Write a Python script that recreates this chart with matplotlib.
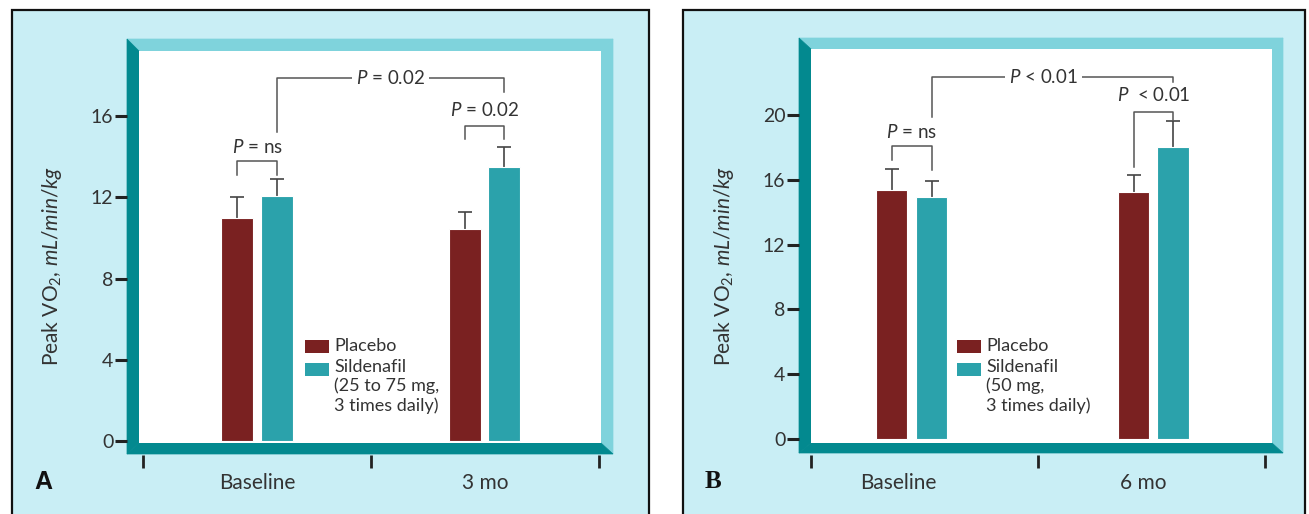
import matplotlib
matplotlib.use("Agg")
import matplotlib.pyplot as plt
from matplotlib.patches import Polygon, Rectangle

plt.rcParams['font.family'] = ['Lato', 'DejaVu Sans']
plt.rcParams['mathtext.fontset'] = 'custom'
plt.rcParams['mathtext.rm'] = 'Lato'
plt.rcParams['mathtext.it'] = 'Lato:italic'

# data
groups_a = ["Baseline", "3 mo"]
placebo_a = [11.0, 10.45]
placebo_err_a = [1.0, 0.85]
sild_a = [12.05, 13.5]
sild_err_a = [0.85, 1.0]
sild_label_a = "Sildenafil\n(25 to 75 mg,\n3 times daily)"
# bracket: (bar left, bar right, y left leg end, y right leg end, bracket height, label)
brackets_a = [(0, 1, 13.1, 13.1, 13.8, "ns"), (2, 3, 14.88, 14.88, 15.52, "0.02"),
              (1, 3, 15.22, 17.19, 17.88, "0.02")]

groups_b = ["Baseline", "6 mo"]
placebo_b = [15.4, 15.25]
placebo_err_b = [1.25, 1.05]
sild_b = [14.95, 18.0]
sild_err_b = [1.0, 1.6]
sild_label_b = "Sildenafil\n(50 mg,\n3 times daily)"
brackets_b = [(0, 1, 17.2, 16.6, 18.09, "ns"), (2, 3, 16.8, 19.7, 20.19, "0.01"),
              (1, 3, 19.88, 22.04, 22.35, "0.01")]

BG = "#c9eef5"
DARK = "#03898f"
LIGHT = "#7fd3dc"
RED = "#7a2121"
TEAL = "#2ba2ab"
TXT = "#333333"

W, H = 1309, 514
fig = plt.figure(figsize=(W / 100, H / 100), dpi=100)
fig.patch.set_facecolor("white")


def fx(x):
    return x / W


def fy(y):
    return 1 - y / H


def pt(x, y):
    return (fx(x), fy(y))


def draw_panel(box, frame, axbox, ylim, yticks, xlim, pos_p, pos_s, label_pos,
               groups, placebo, placebo_err, sild, sild_err, brackets, sym,
               leg_x, sild_label, letter, letter_font, text_y, top_shift):
    # outer panel box
    fig.add_artist(Rectangle(pt(box[0], box[3]), fx(box[2]) - fx(box[0]), fy(box[1]) - fy(box[3]),
                             transform=fig.transFigure, facecolor=BG, edgecolor="#111111",
                             linewidth=1.6, zorder=0))
    # bevelled frame around plot area
    ol, ot, orr, ob = frame[0]
    il, it, ir, ib = frame[1]
    polys = [([(ol, ot), (orr, ot), (ir, it), (il, it)], LIGHT),
             ([(orr, ot), (orr, ob), (ir, ib), (ir, it)], LIGHT),
             ([(ol, ot), (il, it), (il, ib), (ol, ob)], DARK),
             ([(ol, ob), (il, ib), (ir, ib), (orr, ob)], DARK)]
    for p, c in polys:
        fig.add_artist(Polygon([pt(*q) for q in p], closed=True, transform=fig.transFigure,
                               facecolor=c, edgecolor=c, linewidth=0.5, zorder=1))

    ax = fig.add_axes([fx(axbox[0]), fy(axbox[3]), fx(axbox[2]) - fx(axbox[0]),
                       fy(axbox[1]) - fy(axbox[3])])
    ax.set_zorder(2)
    ax.set_facecolor("white")
    ax.set_xlim(*xlim)
    ax.set_ylim(*ylim)

    ax.bar(pos_p, placebo, width=0.14, color=RED, edgecolor="white", linewidth=0.8, zorder=3)
    ax.bar(pos_s, sild, width=0.14, color=TEAL, edgecolor="white", linewidth=0.8, zorder=3)
    for pos, vals, errs in [(pos_p, placebo, placebo_err), (pos_s, sild, sild_err)]:
        eb = ax.errorbar(pos, vals, yerr=[[0] * len(vals), errs], fmt="none",
                         ecolor="#444444", elinewidth=1.2, capsize=5, capthick=1.2, zorder=2)
        eb[1][0].set_visible(False)

    xs = [pos_p[0], pos_s[0], pos_p[1], pos_s[1]]
    for i, (a, b, ya, yb, h, lab) in enumerate(brackets):
        ax.plot([xs[a], xs[a], xs[b], xs[b]], [ya, h, h, yb], color="#555555", lw=1.1, zorder=4)
        s = r"$\mathit{P}$ " + sym[i] + " " + lab
        if i == 2:
            ax.text((xs[a] + xs[b]) / 2 + top_shift, h, s, ha="center", va="center",
                    fontsize=13.5, color=TXT, zorder=5,
                    bbox=dict(facecolor="white", edgecolor="none", pad=3))
        else:
            ax.text((xs[a] + xs[b]) / 2, text_y[i], s, ha="center", va="center",
                    fontsize=13.5, color=TXT, zorder=5)

    for sp in ax.spines.values():
        sp.set_color("none")
    ax.spines["left"].set_position(("outward", 8.5))
    ax.spines["bottom"].set_position(("outward", 8.5))
    ax.set_yticks(yticks)
    ax.tick_params(axis="y", length=9, width=2.2, color="#222222", labelsize=14,
                   labelcolor=TXT, pad=1)
    ax.set_xticks([0, 1, 2])
    ax.set_xticklabels([])
    ax.set_xticks(label_pos, minor=True)
    ax.set_xticklabels(groups, minor=True)
    ax.tick_params(axis="x", which="major", length=9.5, width=2, color="#222222")
    ax.tick_params(axis="x", which="minor", length=0, labelsize=15, labelcolor=TXT, pad=13)
    ax.set_ylabel(r"Peak V$\mathregular{O_2}$, $\mathit{mL/min/kg}$", fontsize=15, color=TXT)
    ax.yaxis.set_label_coords(-0.163, 0.45)

    # legend
    fig.add_artist(Rectangle(pt(leg_x, 353), fx(24), fy(340) - fy(353), transform=fig.transFigure,
                             facecolor=RED, edgecolor="none", zorder=5))
    fig.add_artist(Rectangle(pt(leg_x, 376), fx(24), fy(363) - fy(376), transform=fig.transFigure,
                             facecolor=TEAL, edgecolor="none", zorder=5))
    fig.text(fx(leg_x + 29), fy(346), "Placebo", ha="left", va="center", fontsize=13,
             color=TXT, zorder=6)
    fig.text(fx(leg_x + 29), fy(359), sild_label, ha="left", va="top", fontsize=13,
             color=TXT, zorder=6, linespacing=1.2)
    fig.text(fx(box[0] + 22), fy(482), letter, ha="left", va="center", fontsize=18,
             fontweight="bold", family=letter_font, color="#111111", zorder=6)
    return ax


draw_panel(box=(12, 10, 649, 530), frame=((127, 39, 613, 454), (139, 51, 601, 443)),
           axbox=(139, 51, 601, 443), ylim=(-2 / 20.3, 390 / 20.3), yticks=[0, 4, 8, 12, 16],
           xlim=(-4 / 228, 2 + 2 / 228), pos_p=[0.412, 1.412], pos_s=[0.588, 1.583],
           label_pos=[0.5, 1.5], groups=groups_a, placebo=placebo_a, placebo_err=placebo_err_a,
           sild=sild_a, sild_err=sild_err_a, brackets=brackets_a, sym=["=", "=", "="],
           leg_x=305, sild_label=sild_label_a, letter="A", letter_font="Liberation Sans",
           text_y=[14.48, 16.3], top_shift=0.0)

draw_panel(box=(683, 10, 1305, 530), frame=((799, 38, 1283, 453), (811, 49, 1272, 443)),
           axbox=(811, 49, 1272, 443), ylim=(-4 / 16.2, 390 / 16.2), yticks=[0, 4, 8, 12, 16, 20],
           xlim=(2 / 228, 2 + 7 / 228), pos_p=[0.355, 1.421], pos_s=[0.531, 1.596],
           label_pos=[0.386, 1.465], groups=groups_b, placebo=placebo_b, placebo_err=placebo_err_b,
           sild=sild_b, sild_err=sild_err_b, brackets=brackets_b, sym=["=", " <", "<"],
           leg_x=957, sild_label=sild_label_b, letter="B", letter_font="Liberation Serif",
           text_y=[18.95, 21.23], top_shift=-0.04)

fig.savefig("out.png", dpi=100, facecolor=fig.get_facecolor())
